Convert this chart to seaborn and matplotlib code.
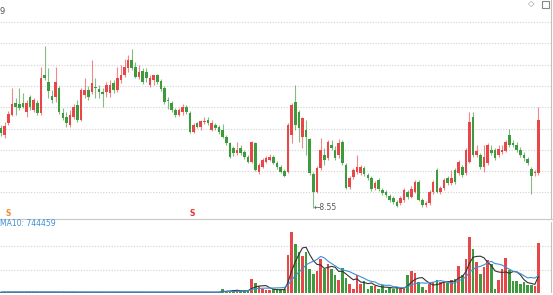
import numpy as np
import pandas as pd
import matplotlib
matplotlib.use("Agg")
import matplotlib.pyplot as plt
import seaborn as sns

# ---------------- data ----------------
opens = [10.15, 10.01, 10.25, 10.41, 10.65, 10.63, 10.65, 10.47, 10.77, 10.51,
         10.65, 10.45, 11.21, 11.07, 10.79, 10.77, 10.95, 10.45, 10.37, 10.21,
         10.37, 10.61, 10.31, 10.81, 10.91, 10.87, 10.97, 10.93, 10.87, 10.87,
         10.85, 11.05, 10.91, 11.11, 11.21, 11.35, 11.51, 11.37, 11.17, 11.29,
         11.27, 11.01, 11.11, 11.21, 11.09, 10.95, 10.71, 10.65, 10.51, 10.41,
         10.47, 10.57, 10.45, 10.07, 10.25, 10.17, 10.27, 10.31, 10.11, 10.21,
         10.17, 10.11, 9.97, 9.85, 9.75, 9.65, 9.75, 9.67, 9.57, 9.47,
         9.85, 9.27, 9.37, 9.47, 9.51, 9.57, 9.45, 9.37, 9.29, 9.27,
         10.01, 10.67, 10.47, 9.97, 10.11, 9.93, 9.23, 8.87, 9.35, 9.61,
         9.55, 9.81, 9.71, 9.61, 9.87, 9.41, 8.97, 9.17, 9.27, 9.25,
         9.35, 9.21, 9.15, 8.95, 9.11, 8.91, 8.87, 8.79, 8.75, 8.67,
         8.65, 8.71, 8.87, 8.77, 8.87, 9.07, 8.71, 8.61, 8.65, 8.87,
         9.31, 8.87, 8.95, 9.15, 9.05, 9.31, 9.25, 9.37, 9.25, 9.47,
         10.37, 9.61, 9.61, 9.37, 9.45, 9.71, 9.71, 9.61, 9.67, 9.69,
         10.01, 9.85, 9.81, 9.71, 9.61, 9.53, 9.33, 9.25, 9.25]
highs = [10.21, 10.27, 10.49, 10.95, 10.75, 10.95, 10.85, 10.71, 10.81, 10.75,
         10.71, 11.37, 11.79, 11.35, 10.91, 11.37, 10.99, 10.55, 10.47, 10.51,
         10.63, 10.71, 10.95, 11.15, 10.99, 11.51, 11.15, 11.01, 10.95, 11.07,
         11.11, 11.11, 11.37, 11.41, 11.53, 11.61, 11.73, 11.47, 11.41, 11.35,
         11.35, 11.21, 11.21, 11.23, 11.13, 10.99, 10.77, 10.69, 10.55, 10.55,
         10.63, 10.61, 10.49, 10.25, 10.27, 10.31, 10.37, 10.37, 10.31, 10.25,
         10.21, 10.23, 10.01, 9.87, 9.79, 9.87, 9.81, 9.71, 9.61, 9.89,
         9.87, 9.45, 9.55, 9.59, 9.63, 9.61, 9.49, 9.41, 9.33, 10.25,
         10.65, 11.01, 10.51, 10.37, 10.31, 9.95, 9.27, 9.39, 9.95, 9.75,
         9.91, 9.91, 9.79, 9.93, 9.91, 9.45, 9.19, 9.35, 9.61, 9.41,
         9.39, 9.25, 9.19, 9.09, 9.15, 8.95, 8.91, 8.83, 8.79, 8.71,
         8.79, 8.95, 8.91, 8.99, 9.11, 9.11, 8.75, 8.69, 8.91, 9.11,
         9.35, 8.99, 9.15, 9.19, 9.31, 9.35, 9.51, 9.41, 9.75, 10.47,
         10.47, 9.81, 9.65, 9.81, 9.85, 9.81, 9.75, 9.81, 9.81, 9.91,
         10.13, 9.91, 9.87, 9.77, 9.67, 9.57, 9.37, 9.31, 10.57]
lows = [9.99, 9.95, 10.21, 10.39, 10.41, 10.51, 10.55, 10.37, 10.51, 10.47,
        10.41, 10.41, 11.11, 10.75, 10.65, 10.67, 10.43, 10.31, 10.17, 10.17,
        10.33, 10.27, 10.29, 10.75, 10.71, 10.83, 10.75, 10.75, 10.57, 10.77,
        10.77, 10.85, 10.87, 11.05, 11.17, 11.27, 11.31, 11.15, 11.13, 11.03,
        11.07, 10.97, 11.01, 11.03, 10.89, 10.63, 10.53, 10.47, 10.37, 10.39,
        10.41, 10.43, 10.05, 10.05, 10.15, 10.11, 10.23, 10.21, 10.09, 10.11,
        10.03, 9.95, 9.81, 9.55, 9.59, 9.61, 9.61, 9.53, 9.45, 9.45,
        9.29, 9.23, 9.35, 9.45, 9.49, 9.43, 9.33, 9.25, 9.17, 9.25,
        9.85, 10.11, 9.87, 9.75, 9.61, 9.21, 8.55, 8.85, 9.31, 9.41,
        9.51, 9.71, 9.51, 9.55, 9.41, 8.93, 8.93, 9.13, 9.23, 9.21,
        9.19, 9.11, 8.89, 8.91, 8.89, 8.81, 8.77, 8.67, 8.63, 8.57,
        8.61, 8.67, 8.73, 8.75, 8.85, 8.69, 8.57, 8.57, 8.61, 8.83,
        8.85, 8.83, 8.91, 9.01, 9.01, 9.03, 9.21, 9.17, 9.21, 9.45,
        9.57, 9.57, 9.33, 9.27, 9.41, 9.61, 9.51, 9.57, 9.63, 9.67,
        9.77, 9.77, 9.67, 9.57, 9.49, 9.41, 8.83, 9.19, 9.21]
closes = [10.05, 10.19, 10.43, 10.63, 10.57, 10.55, 10.57, 10.65, 10.57, 10.71,
          10.45, 11.15, 11.15, 10.89, 10.71, 11.07, 10.47, 10.35, 10.25, 10.41,
          10.57, 10.31, 10.91, 10.91, 10.77, 11.05, 10.95, 10.87, 10.83, 11.01,
          11.01, 10.91, 11.15, 11.21, 11.37, 11.51, 11.35, 11.17, 11.27, 11.07,
          11.15, 11.15, 11.21, 11.07, 10.93, 10.67, 10.69, 10.51, 10.41, 10.51,
          10.57, 10.47, 10.07, 10.21, 10.17, 10.29, 10.29, 10.25, 10.25, 10.15,
          10.07, 9.97, 9.85, 9.57, 9.65, 9.71, 9.65, 9.57, 9.47, 9.87,
          9.31, 9.41, 9.51, 9.55, 9.57, 9.45, 9.37, 9.27, 9.19, 10.21,
          10.61, 10.21, 10.15, 10.35, 9.97, 9.25, 8.87, 9.35, 9.71, 9.51,
          9.87, 9.75, 9.55, 9.85, 9.45, 8.95, 9.15, 9.31, 9.37, 9.37,
          9.23, 9.15, 8.93, 9.05, 8.93, 8.85, 8.81, 8.71, 8.67, 8.59,
          8.75, 8.91, 8.77, 8.93, 9.07, 8.71, 8.61, 8.65, 8.87, 9.07,
          8.87, 8.95, 9.11, 9.05, 9.15, 9.07, 9.47, 9.21, 9.71, 10.27,
          9.61, 9.69, 9.37, 9.57, 9.81, 9.65, 9.55, 9.73, 9.71, 9.87,
          9.81, 9.81, 9.71, 9.61, 9.55, 9.45, 9.19, 9.27, 10.31]
# volume, thousands of shares
volumes = [40, 45, 38, 42, 36, 40, 44, 38, 35, 41,
           39, 48, 46, 42, 38, 40, 37, 35, 39, 41,
           38, 36, 42, 40, 37, 39, 35, 38, 36, 40,
           38, 37, 41, 39, 43, 40, 38, 36, 35, 37,
           36, 34, 38, 35, 36, 40, 37, 35, 36, 34,
           35, 37, 45, 40, 36, 35, 33, 36, 38, 35,
           40, 200, 93, 93, 125, 125, 93, 93, 93, 637,
           465, 312, 172, 125, 125, 172, 172, 172, 172, 1753,
           2837, 2265, 1907, 1721, 1907, 1116, 884, 1023, 1581, 1116,
           1349, 1116, 837, 605, 1163, 698, 419, 186, 837, 419,
           558, 186, 326, 326, 186, 372, 140, 279, 186, 279,
           186, 186, 837, 1023, 930, 512, 279, 140, 419, 512,
           605, 512, 512, 465, 605, 651, 1256, 837, 1581, 2604,
           2046, 1442, 884, 1209, 1535, 1349, 186, 605, 1116, 1628,
           1070, 558, 558, 419, 512, 372, 372, 326, 2325]
low_label = "8.55"
ma10_label = "MA10: 744459"

# ---------------- style ----------------
sns.set_style("white")
RED = "#e8474a"
GREEN = "#3d9b3d"
GRID = "#d0d0d0"

W, H = 553, 295
fig = plt.figure(figsize=(W / 100, H / 100), dpi=100)
fig.patch.set_facecolor("white")

ax = fig.add_axes([0, 1 - 219 / H, 1, 219 / H])
axv = fig.add_axes([0, 1 - 293 / H, 1, 71 / H])

df = pd.DataFrame({"open": opens, "high": highs, "low": lows,
                   "close": closes, "vol": volumes})
df["idx"] = np.arange(len(df))
df["up"] = df["close"] >= df["open"]
df["color"] = np.where(df["up"], RED, GREEN)

# candles
for _, r in df.iterrows():
    ax.vlines(r["idx"], r["low"], r["high"], color=r["color"], lw=0.8, alpha=0.65, zorder=2)
    body_lo = min(r["open"], r["close"])
    body_h = max(abs(r["close"] - r["open"]), 0.02)
    ax.bar(r["idx"], body_h, bottom=body_lo, width=0.72, color=r["color"],
           linewidth=0, zorder=3)

xmin, xmax = -0.30, 152.0
ax.set_xlim(xmin, xmax)
ax.set_ylim(8.33, 12.71)
grid_prices = [12.27, 11.844, 11.418, 10.992, 10.566, 10.14, 9.714, 9.288, 8.862]
ax.set_yticks(grid_prices)
ax.set_xticks([])
ax.tick_params(length=0, labelleft=False, labelbottom=False)
ax.grid(axis="y", color=GRID, linestyle=(0, (1, 1.5)), lw=0.8)
for s in ["top", "left", "right"]:
    ax.spines[s].set_visible(False)
ax.spines["bottom"].set_color("#c8c8c8")
ax.spines["bottom"].set_linewidth(0.8)
ax.axvline(151.5, color="#c0c0c0", lw=0.8)

# low annotation
imin = int(np.argmin(lows))
ax.text(imin + 0.1, lows[imin], "\u2190" + low_label, fontsize=5.5, color="#555555",
        va="center", ha="left")

# volume
axv.bar(df["idx"], df["vol"], width=0.72, color=df["color"], linewidth=0, zorder=2)
ma5 = df["vol"].rolling(5, min_periods=1).mean()
ma10 = df["vol"].rolling(10, min_periods=1).mean()
sns.lineplot(x=df["idx"], y=ma5, ax=axv, color="#333333", lw=0.8, zorder=3)
sns.lineplot(x=df["idx"], y=ma10, ax=axv, color="#3d8fd6", lw=0.8, zorder=3)
axv.set_xlim(xmin, xmax)
axv.set_ylim(0, 3302)
axv.set_yticks([1070, 2186])
axv.set_xticks([])
axv.set_xlabel("")
axv.set_ylabel("")
axv.tick_params(length=0, labelleft=False, labelbottom=False)
axv.grid(axis="y", color=GRID, linestyle=(0, (1, 1.5)), lw=0.8)
for s in ["top", "left", "right", "bottom"]:
    axv.spines[s].set_visible(False)
axv.axvline(151.5, color="#c0c0c0", lw=0.8)

# texts
fig.text(0, 1 - 224 / H, ma10_label, fontsize=5.5, color="#3d8fd6", va="center", ha="left")
fig.text(0, 1 - 11 / H, "9", fontsize=6, color="#555555", va="center", ha="left")
fig.text(5 / W, 1 - 214 / H, "S", fontsize=5.5, color="#f08a30", va="center", ha="left", weight="bold")
fig.text(190 / W, 1 - 214 / H, "S", fontsize=5.5, color="#e83030", va="center", ha="left", weight="bold")
fig.text(528 / W, 1 - 4 / H, "\u25c7", fontsize=6, color="#888888", va="center", ha="left")
fig.patches.append(plt.Rectangle((542 / W, 1 - 8 / H), 7 / W, 7 / H, transform=fig.transFigure,
                                 fill=False, edgecolor="#888888", lw=0.8))

fig.savefig("out.png", dpi=100)
